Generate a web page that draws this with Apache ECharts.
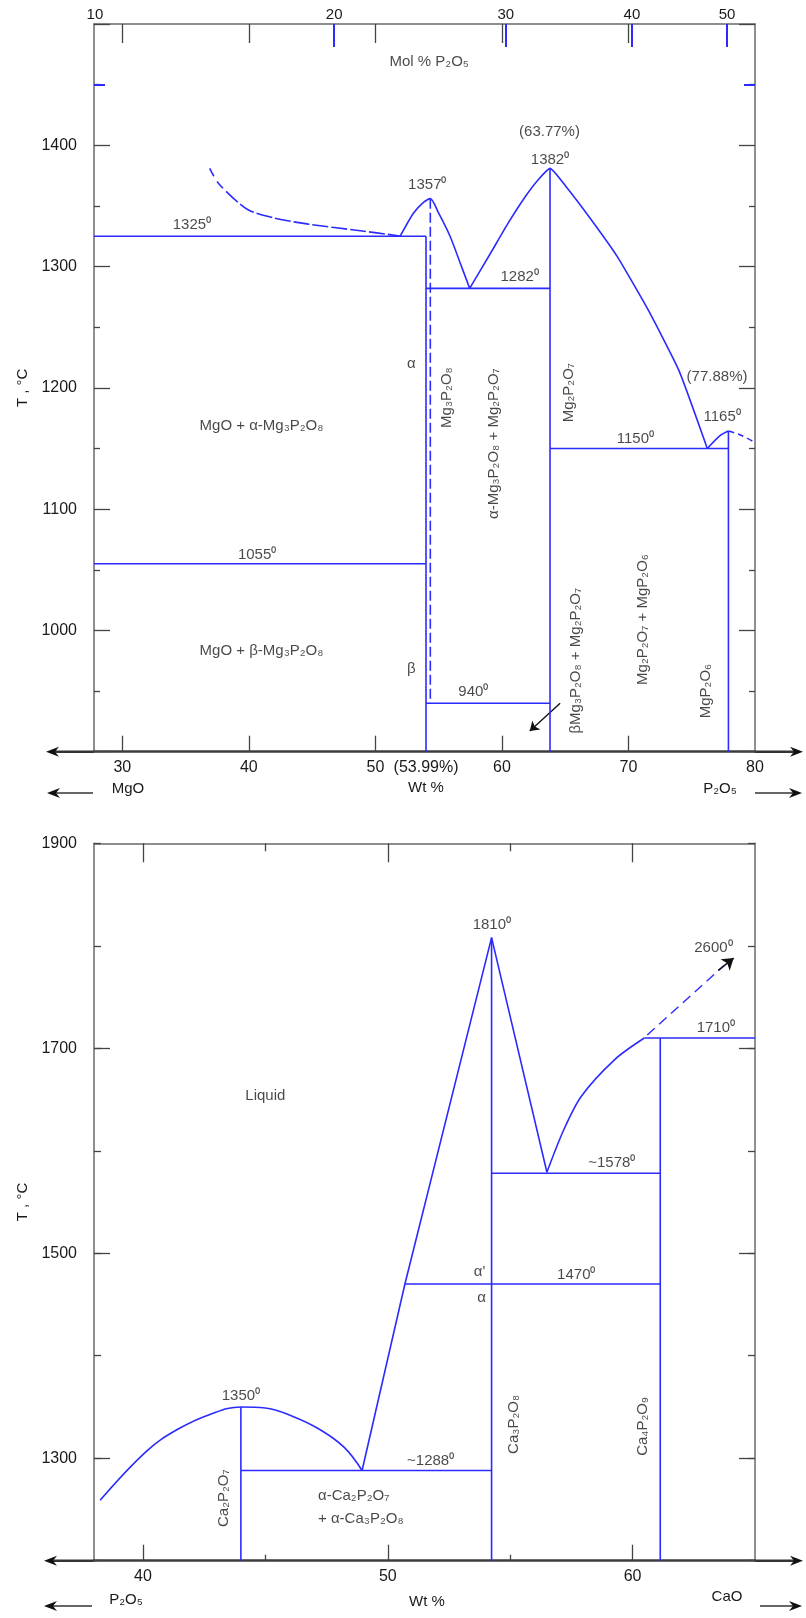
<!DOCTYPE html>
<html>
<head>
<meta charset="utf-8">
<script src="https://cdn.jsdelivr.net/npm/echarts@6/dist/echarts.min.js"></script>
<style>
html, body { margin: 0; padding: 0; background: #fff; }
#main { width: 806px; height: 1618px; }
</style>
</head>
<body>
<div id="main"></div>
<script>
// ---------- MgO - P2O5 (upper diagram) ----------
const mgWtTicks = [30, 40, 50, 60, 70];
const mgWtLabels = [30, 40, 50, 54, 60, 70, 80];
const molLabels = ['10', '20', '30', '40', '50'];
const molTickWt = [27.83, 46.74, 60.3, 70.27, 77.79];

const mgLiqMgOTop = [[36.9, 1381], [37.5, 1370], [38.2, 1362]];
const mgLiqMgO = [[38.2, 1362], [39.9, 1347], [42.0, 1340], [44.7, 1335], [48.8, 1329.5], [51.4, 1326], [52.0, 1325]];
const mgLiq3 = [[51.96, 1325], [53.0, 1344], [53.8, 1353], [54.34, 1356], [55.0, 1344], [55.9, 1325], [56.7, 1303], [57.45, 1282]];
const mgLiq2 = [[57.45, 1282], [59.1, 1311], [60.5, 1336], [61.8, 1357], [62.9, 1372], [63.8, 1381],
  [65.06, 1366], [67.1, 1338], [69.13, 1308], [71.57, 1264], [74.0, 1214], [76.23, 1150]];
const mgLiq1 = [[76.23, 1150], [77.28, 1161], [77.9, 1164.5]];
const mgLiq1Dash = [[77.9, 1164.5], [78.9, 1161], [79.9, 1155.5]];
const mgLines = [
  [[27.76, 1325], [54.0, 1325]],
  [[27.76, 1055], [54.0, 1055]],
  [[54.0, 1282], [63.8, 1282]],
  [[54.0, 940], [63.8, 940]],
  [[63.8, 1150], [77.9, 1150]],
  [[54.0, 1325], [54.0, 900]],
  [[63.8, 1381], [63.8, 900]],
  [[77.9, 1164.5], [77.9, 900]]
];
const mgDashedPhase = [[54.34, 1356], [54.34, 940]];
const mgArrow = [[64.6, 940], [62.2, 917]];

const mgNotes = [
  [54.25, 1469, 'Mol % P₂O₅'],
  [35.5, 1334, '1325⁰'],
  [54.1, 1367, '1357⁰'],
  [63.8, 1388, '1382⁰'],
  [63.76, 1411, '(63.77%)'],
  [61.4, 1291.5, '1282⁰'],
  [77.0, 1209, '(77.88%)'],
  [77.4, 1176, '1165⁰'],
  [70.55, 1158, '1150⁰'],
  [52.83, 1220, 'α'],
  [41.0, 1169, 'MgO + α-Mg₃P₂O₈'],
  [40.65, 1062, '1055⁰'],
  [41.0, 983, 'MgO + β-Mg₃P₂O₈'],
  [52.83, 968, 'β'],
  [57.74, 949, '940⁰']
];
const mgVertNotes = [
  [55.68, 1192, 'Mg₃P₂O₈'],
  [65.25, 1196, 'Mg₂P₂O₇'],
  [59.37, 1154, 'α-Mg₃P₂O₈ + Mg₂P₂O₇'],
  [65.88, 975, 'βMg₃P₂O₈ + Mg₂P₂O₇'],
  [71.16, 1009, 'Mg₂P₂O₇ + MgP₂O₆'],
  [76.1, 950, 'MgP₂O₆']
];

// ---------- P2O5 - CaO (lower diagram) ----------
const caWtTicks = [40, 50, 60];
const caWtMinor = [45, 55];
const caTempLabels = [1300, 1500, 1700, 1900];
const caTempMajor = [1300, 1500, 1700];

const caLiqDome = [[38.25, 1259], [40.15, 1307], [41.4, 1328], [42.76, 1343], [44.0, 1350],
  [45.0, 1349], [46.1, 1341], [47.15, 1329], [48.2, 1311], [48.95, 1288]];
const caLiqC3P = [[48.95, 1288], [50.7, 1470], [54.24, 1808], [56.5, 1579]];
const caLiqC4P = [[56.5, 1579], [57.18, 1620], [57.9, 1653], [59.27, 1689], [60.48, 1710]];
const caLines = [
  [[44.0, 1350], [44.0, 1200]],
  [[44.0, 1288], [54.24, 1288]],
  [[54.24, 1808], [54.24, 1200]],
  [[54.24, 1578], [61.13, 1578]],
  [[50.7, 1470], [61.13, 1470]],
  [[61.13, 1710], [61.13, 1200]],
  [[60.48, 1710], [65, 1710]]
];
const caDash2600 = [[60.6, 1713], [63.75, 1781]];
const caArrow2600 = [[63.5, 1776], [64.13, 1788]];

const caNotes = [
  [54.25, 1820, '1810⁰'],
  [63.3, 1798, '2600⁰'],
  [63.4, 1720, '1710⁰'],
  [59.15, 1588, '~1578⁰'],
  [45.0, 1654, 'Liquid'],
  [53.75, 1482, "α'"],
  [53.83, 1456, 'α'],
  [57.7, 1479, '1470⁰'],
  [44.0, 1361, '1350⁰'],
  [51.75, 1297, '~1288⁰']
];
const caVertNotes = [
  [43.32, 1261, 'Ca₂P₂O₇'],
  [55.15, 1333, 'Ca₃P₂O₈'],
  [60.4, 1331, 'Ca₄P₂O₉']
];
const caMixNote = [47.15, 1252, 'α-Ca₂P₂O₇\n+ α-Ca₃P₂O₈'];

// ---------- styling ----------
const FONT = "'Liberation Sans Narrow', 'Liberation Sans', Arial, sans-serif";
const BLUE = '#2b2bff';
const FRAME = '#6a6a6a';
const TXT = '#1a1a1a';

function xAx(grid, pos, min, max, extra) {
  return Object.assign({
    type: 'value', gridIndex: grid, position: pos, min: min, max: max,
    splitLine: { show: false },
    axisLine: { show: false },
    axisTick: { show: false },
    axisLabel: { show: false }
  }, extra);
}
function yAx(grid, pos, min, max, extra) {
  return Object.assign({
    type: 'value', gridIndex: grid, position: pos, min: min, max: max, interval: 100,
    splitLine: { show: false },
    axisLine: { show: false },
    axisTick: { show: false },
    axisLabel: { show: false }
  }, extra);
}
const frameLine = { show: true, onZero: false, lineStyle: { color: FRAME, width: 1.5 } };
const bottomLine = { show: true, onZero: false, lineStyle: { color: '#3c3c3c', width: 2.5 } };
function ticks(len, vals, color) {
  const t = { show: true, inside: true, length: len, lineStyle: { color: color || '#444', width: color ? 2 : 1.3 } };
  if (vals) t.customValues = vals;
  return t;
}
const lblStyle = { color: TXT, fontFamily: FONT, fontSize: 16 };
const plain = v => String(v);

const xAxes = [
  // upper diagram (grid 0)
  xAx(0, 'bottom', 27.76, 80, {
    axisLine: bottomLine, axisTick: ticks(16, mgWtTicks),
    axisLabel: Object.assign({ show: true, margin: 8, customValues: mgWtLabels,
      formatter: v => (v === 54 ? '(53.99%)' : String(v)) }, lblStyle)
  }),
  xAx(0, 'top', 27.76, 80, { axisLine: frameLine, axisTick: ticks(19, mgWtTicks) }),
  xAx(0, 'top', 27.76, 80, {
    axisTick: ticks(23, molTickWt.slice(1), BLUE),
    axisLabel: Object.assign({ show: true, margin: 2, customValues: molTickWt,
      formatter: v => molLabels[molTickWt.indexOf(v)] }, lblStyle, { fontSize: 15 })
  }),
  // lower diagram (grid 1)
  xAx(1, 'bottom', 38, 65, {
    axisLine: bottomLine, axisTick: ticks(16, caWtTicks),
    axisLabel: Object.assign({ show: true, margin: 8, customValues: caWtTicks, formatter: plain }, lblStyle)
  }),
  xAx(1, 'bottom', 38, 65, { axisTick: ticks(6, caWtMinor) }),
  xAx(1, 'top', 38, 65, { axisLine: frameLine, axisTick: ticks(19, caWtTicks) }),
  xAx(1, 'top', 38, 65, { axisTick: ticks(8, caWtMinor) })
];

const nameStyle = { color: TXT, fontFamily: FONT, fontSize: 15 };
const yAxes = [
  yAx(0, 'left', 900, 1500, {
    axisLine: frameLine, axisTick: ticks(16),
    minorTick: { show: true, splitNumber: 2, length: 6, lineStyle: { color: '#444', width: 1.3 } },
    axisLabel: Object.assign({ show: true, margin: 17, showMinLabel: false, showMaxLabel: false, formatter: plain }, lblStyle),
    name: 'T , °C', nameLocation: 'middle', nameRotate: 90, nameGap: 63, nameTextStyle: nameStyle
  }),
  yAx(0, 'right', 900, 1500, {
    axisLine: frameLine, axisTick: ticks(16),
    minorTick: { show: true, splitNumber: 2, length: 6, lineStyle: { color: '#444', width: 1.3 } }
  }),
  yAx(0, 'left', 900, 1500, { axisTick: ticks(11, [1450], BLUE) }),
  yAx(0, 'right', 900, 1500, { axisTick: ticks(11, [1450], BLUE) }),
  yAx(1, 'left', 1200, 1900, {
    axisLine: frameLine, axisTick: ticks(7),
    axisLabel: Object.assign({ show: true, margin: 17, customValues: caTempLabels, formatter: plain }, lblStyle),
    name: 'T , °C', nameLocation: 'middle', nameRotate: 90, nameGap: 63, nameTextStyle: nameStyle
  }),
  yAx(1, 'left', 1200, 1900, { axisTick: ticks(16, caTempMajor) }),
  yAx(1, 'right', 1200, 1900, { axisLine: frameLine, axisTick: ticks(7) }),
  yAx(1, 'right', 1200, 1900, { axisTick: ticks(16, caTempMajor) })
];

const series = [];
function curve(data, xi, yi, opts) {
  opts = opts || {};
  series.push({
    type: 'line', xAxisIndex: xi, yAxisIndex: yi, data: data,
    symbol: 'none', silent: true, smooth: opts.smooth || false,
    lineStyle: { color: BLUE, width: opts.width || 1.6, type: opts.dash || 'solid' }
  });
}
function arrow(coords, xi, yi, color, dash, size) {
  series.push({
    type: 'lines', coordinateSystem: 'cartesian2d', xAxisIndex: xi, yAxisIndex: yi,
    symbol: ['none', 'arrow'], symbolSize: size, silent: true,
    lineStyle: { color: color, width: 1.4, type: dash || 'solid', opacity: 1 },
    data: [{ coords: coords }]
  });
}
function notes(list, xi, yi, rotate, extra) {
  series.push({
    type: 'scatter', xAxisIndex: xi, yAxisIndex: yi, symbolSize: 0, silent: true,
    data: list.map(n => ({ value: [n[0], n[1]], name: n[2] })),
    label: Object.assign({
      show: true, position: 'inside', formatter: '{b}', rotate: rotate,
      color: TXT, fontFamily: FONT, fontSize: 15
    }, extra || {})
  });
}

// upper diagram
curve(mgLiqMgOTop, 0, 0, { dash: [9, 6], smooth: 0.3 });
curve(mgLiqMgO, 0, 0, { dash: [16, 3], smooth: 0.3 });
curve(mgLiq3, 0, 0, { smooth: 0.25 });
curve(mgLiq2, 0, 0, { smooth: 0.15 });
curve(mgLiq1, 0, 0, { smooth: 0.3 });
curve(mgLiq1Dash, 0, 0, { smooth: 0.3, dash: [6, 4] });
mgLines.forEach(l => curve(l, 0, 0));
curve(mgDashedPhase, 0, 0, { dash: [10, 4] });
arrow(mgArrow, 0, 0, '#111', 'solid', 9);
notes(mgNotes, 0, 0, 0);
notes(mgVertNotes, 0, 0, 90);

// lower diagram
curve(caLiqDome, 3, 4, { smooth: 0.4 });
curve(caLiqC3P, 3, 4);
curve(caLiqC4P, 3, 4, { smooth: 0.3 });
caLines.forEach(l => curve(l, 3, 4));
arrow(caDash2600, 3, 4, BLUE, [10, 6], 0.1);
arrow(caArrow2600, 3, 4, '#111', 'solid', 11);
notes(caNotes, 3, 4, 0);
notes(caVertNotes, 3, 4, 90);
notes([caMixNote], 3, 4, 0, { align: 'left', lineHeight: 23 });

// axis arrows and composition captions under each diagram
function hArrow(x1, x2, y, w) {
  const dir = x2 > x1 ? 1 : -1;
  return [
    { type: 'line', shape: { x1: x1, y1: y, x2: x2 - dir * 6, y2: y }, style: { stroke: '#333', lineWidth: w } },
    { type: 'polygon', shape: { points: [[x2, y], [x2 - dir * 13, y - 5], [x2 - dir * 9, y], [x2 - dir * 13, y + 5]] },
      style: { fill: '#111' } }
  ];
}
function caption(x, y, text) {
  return { type: 'text', x: x, y: y, style: { text: text, fill: TXT, font: '15px ' + FONT, align: 'center', verticalAlign: 'middle' } };
}
const graphics = [].concat(
  hArrow(94, 46, 751.7, 2.5), hArrow(755, 803, 751.7, 2.5),
  hArrow(93, 47, 793, 1.5), hArrow(755, 802, 793, 1.5),
  [caption(128, 789, 'MgO'), caption(426, 788, 'Wt %'), caption(720, 789, 'P₂O₅')],
  hArrow(94, 44, 1560.7, 2.5), hArrow(755, 803, 1560.7, 2.5),
  hArrow(92, 44, 1606, 1.5), hArrow(760, 802, 1606, 1.5),
  [caption(126, 1600, 'P₂O₅'), caption(427, 1602, 'Wt %'), caption(727, 1597, 'CaO')]
);

const chart = echarts.init(document.getElementById('main'));
chart.setOption({
  animation: false,
  backgroundColor: '#fff',
  grid: [
    { left: 94, width: 661, top: 24, height: 727.7 },
    { left: 94, width: 661, top: 843.3, height: 717.4 }
  ],
  xAxis: xAxes,
  yAxis: yAxes,
  series: series,
  graphic: graphics
});
</script>
</body>
</html>
